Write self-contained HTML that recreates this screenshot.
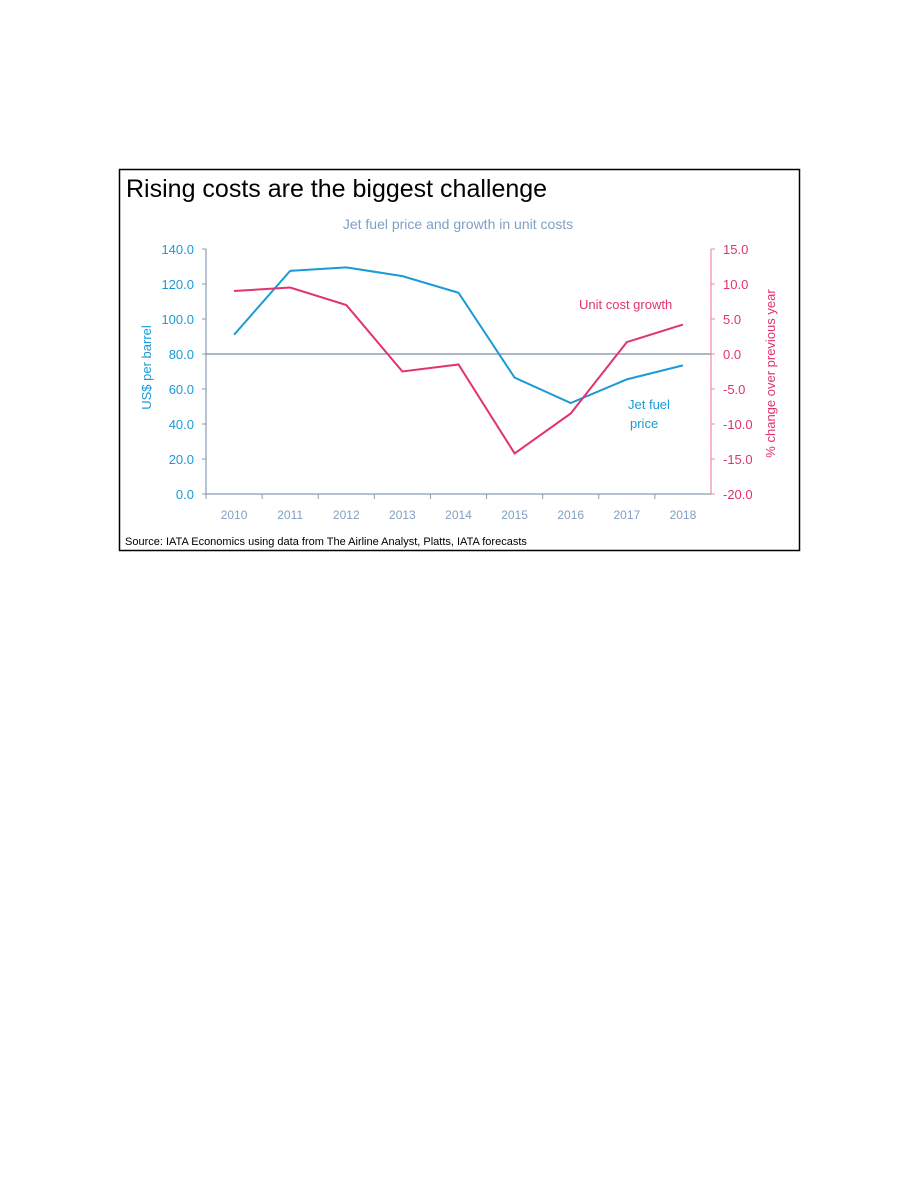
<!DOCTYPE html>
<html><head><meta charset="utf-8"><style>
body{margin:0;background:#fff;}
svg text{font-family:"Liberation Sans",sans-serif;}
</style></head><body>
<svg width="918" height="1188" xmlns="http://www.w3.org/2000/svg">
<rect x="119.5" y="169.5" width="680" height="381" fill="#fff" stroke="#000" stroke-width="1.5"/>
<text x="126" y="197" font-size="25" fill="#000">Rising costs are the biggest challenge</text>
<text x="458" y="229" font-size="14" fill="#7f9fc6" text-anchor="middle">Jet fuel price and growth in unit costs</text>
<g id="axes"></g>
<text x="579" y="309" font-size="13" fill="#e0336f">Unit cost growth</text>
<text x="628" y="409" font-size="13" fill="#1a9ad6">Jet fuel</text>
<text x="630" y="428" font-size="13" fill="#1a9ad6">price</text>
<text x="125" y="545" font-size="11" fill="#000">Source: IATA Economics using data from The Airline Analyst, Platts, IATA forecasts</text>
</svg>
<script>
const years=["2010","2011","2012","2013","2014","2015","2016","2017","2018"];
const fuel=[91,127.5,129.5,124.5,115,66.5,52,65.5,73.5];
const unitCost=[9.0,9.5,7.0,-2.5,-1.5,-14.2,-8.5,1.7,4.2];
const leftTicks=[0,20,40,60,80,100,120,140];
const rightTicks=[-20,-15,-10,-5,0,5,10,15];
const NS="http://www.w3.org/2000/svg";
const g=document.getElementById('axes');
const X0=206,X1=711,Y0=494,Y1=249;
const bw=(X1-X0)/years.length;
const xs=i=>X0+bw*(i+0.5);
const yl=v=>Y0-(v-0)/(140-0)*(Y0-Y1);
const yr=v=>Y0-(v+20)/35*(Y0-Y1);
function mk(t,a){const e=document.createElementNS(NS,t);for(const k in a)e.setAttribute(k,a[k]);g.appendChild(e);return e;}
let e;
e=mk('line',{x1:X0,y1:Y1,x2:X0,y2:Y0,stroke:'#8a9bb0','stroke-width':1.2});


e=mk('line',{x1:X1,y1:Y1,x2:X1,y2:Y0,stroke:'#f08aa8','stroke-width':1.2});


e=mk('line',{x1:X0,y1:Y0,x2:X1,y2:Y0,stroke:'#8a9bb0','stroke-width':1.2});


e=mk('line',{x1:X0,y1:yr(0),x2:X1,y2:yr(0),stroke:'#7a8ea6','stroke-width':1.2});


leftTicks.forEach(v=>{
 mk('line',{x1:X0-4,y1:yl(v),x2:X0,y2:yl(v),stroke:'#8a9bb0'});
 e=mk('text',{x:X0-12,y:yl(v)+5,'font-size':13,fill:'#1a9ad6','text-anchor':'end'});e.textContent=v.toFixed(1);
 
 
});
rightTicks.forEach(v=>{
 mk('line',{x1:X1,y1:yr(v),x2:X1+4,y2:yr(v),stroke:'#f08aa8'});
 e=mk('text',{x:X1+12,y:yr(v)+5,'font-size':13,fill:'#e0336f'});e.textContent=v.toFixed(1);
 
 
});
years.forEach((y,i)=>{
 mk('line',{x1:X0+bw*i,y1:Y0,x2:X0+bw*i,y2:Y0+5,stroke:'#8a9bb0'});
 e=mk('text',{x:xs(i),y:Y0+25,'font-size':12,fill:'#7f9fc6','text-anchor':'middle'});e.textContent=y;
 
 
});
e=mk('text',{x:0,y:0,'font-size':13,fill:'#1a9ad6','text-anchor':'middle',transform:`translate(151,${(Y0+Y1)/2-4}) rotate(-90)`});e.textContent='US$ per barrel';


e=mk('text',{x:0,y:0,'font-size':13,fill:'#e0336f','text-anchor':'middle',transform:`translate(775,${(Y0+Y1)/2+2}) rotate(-90)`});e.textContent='% change over previous year';


e=mk('polyline',{points:fuel.map((v,i)=>xs(i)+','+yl(v)).join(' '),fill:'none',stroke:'#1a9ad6','stroke-width':2});


e=mk('polyline',{points:unitCost.map((v,i)=>xs(i)+','+yr(v)).join(' '),fill:'none',stroke:'#e0336f','stroke-width':2});


</script>
</body></html>
